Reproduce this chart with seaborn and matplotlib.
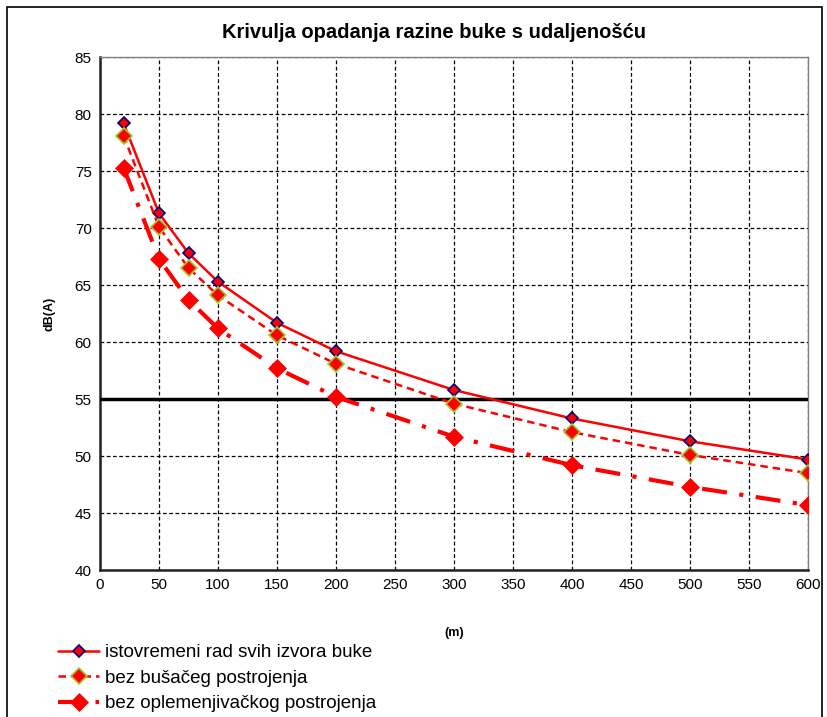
import pandas as pd
import numpy as np
import matplotlib.pyplot as plt
from matplotlib.patches import Rectangle
import seaborn as sns

distance = [20, 50, 75, 100, 150, 200, 300, 400, 500, 600]
all_sources = [79.2, 71.3, 67.8, 65.3, 61.7, 59.2, 55.8, 53.3, 51.3, 49.7]
no_drilling = [78.1, 70.1, 66.5, 64.1, 60.6, 58.1, 54.6, 52.1, 50.1, 48.5]
no_refining = [75.3, 67.3, 63.7, 61.2, 57.7, 55.2, 51.7, 49.2, 47.3, 45.7]
limit = 55

labels = ['istovremeni rad svih izvora buke',
          'bez bušačeg postrojenja',
          'bez oplemenjivačkog postrojenja']

sns.set_theme(style='white')
plt.rcParams['font.family'] = ['Liberation Sans', 'DejaVu Sans']
plt.rcParams['text.color'] = 'black'
plt.rcParams['axes.labelcolor'] = 'black'
plt.rcParams['xtick.color'] = 'black'
plt.rcParams['ytick.color'] = 'black'

fig = plt.figure(figsize=(8.27, 7.17), dpi=100)
ax = fig.add_axes([0.121, 0.205, 0.856, 0.715])

fig.patches.append(Rectangle((7 / 827, -0.1), 815 / 827, 1.1 - 7 / 717,
                             transform=fig.transFigure, fill=False,
                             edgecolor='black', linewidth=1.2))

ax.axhline(limit, color='black', linewidth=2.5, zorder=3)

df = pd.DataFrame({'x': distance, 'a': all_sources, 'b': no_drilling, 'c': no_refining})

styles = [
    dict(y='a', linestyle='-', lw=1.8, ms=6, mec='navy', mew=1.2),
    dict(y='b', linestyle=(0, (3, 2)), lw=1.8, ms=8, mec='yellowgreen', mew=1.2),
    dict(y='c', linestyle=(0, (6, 3, 1, 3)), lw=3.0, ms=9, mec='red', mew=0.5),
]

for s, lab in zip(styles, labels):
    sns.lineplot(data=df, x='x', y=s['y'], ax=ax, color='red',
                 linestyle=s['linestyle'], linewidth=s['lw'],
                 marker='D', markersize=s['ms'], markerfacecolor='red',
                 markeredgecolor=s['mec'], markeredgewidth=s['mew'],
                 label=lab, zorder=4)

ax.set_xlim(0, 600)
ax.set_ylim(40, 85)
ax.set_xticks(np.arange(0, 601, 50))
ax.set_yticks(np.arange(40, 86, 5))
ax.grid(True, color='black', linestyle=(0, (3, 2)), linewidth=0.9)
ax.tick_params(labelsize=11, length=0, pad=6)

for side in ['top', 'right']:
    ax.spines[side].set_color('gray')
    ax.spines[side].set_linewidth(1)
for side in ['left', 'bottom']:
    ax.spines[side].set_color('#222222')
    ax.spines[side].set_linewidth(1.8)

fig.text(434 / 827, 1 - 33 / 717, 'Krivulja opadanja razine buke s udaljenošću',
         ha='center', va='center', fontsize=14.5, fontweight='bold')
ax.set_ylabel('dB(A)', fontsize=9, fontweight='bold', labelpad=14)
ax.set_xlabel('(m)', fontsize=9, fontweight='bold', labelpad=25)

ax.legend(loc='upper left', bbox_to_anchor=(-0.07, -0.13), frameon=False,
          fontsize=13.5, handlelength=2.2, handletextpad=0.3,
          labelspacing=0.45, borderaxespad=0)

plt.savefig('out.png', dpi=100)
